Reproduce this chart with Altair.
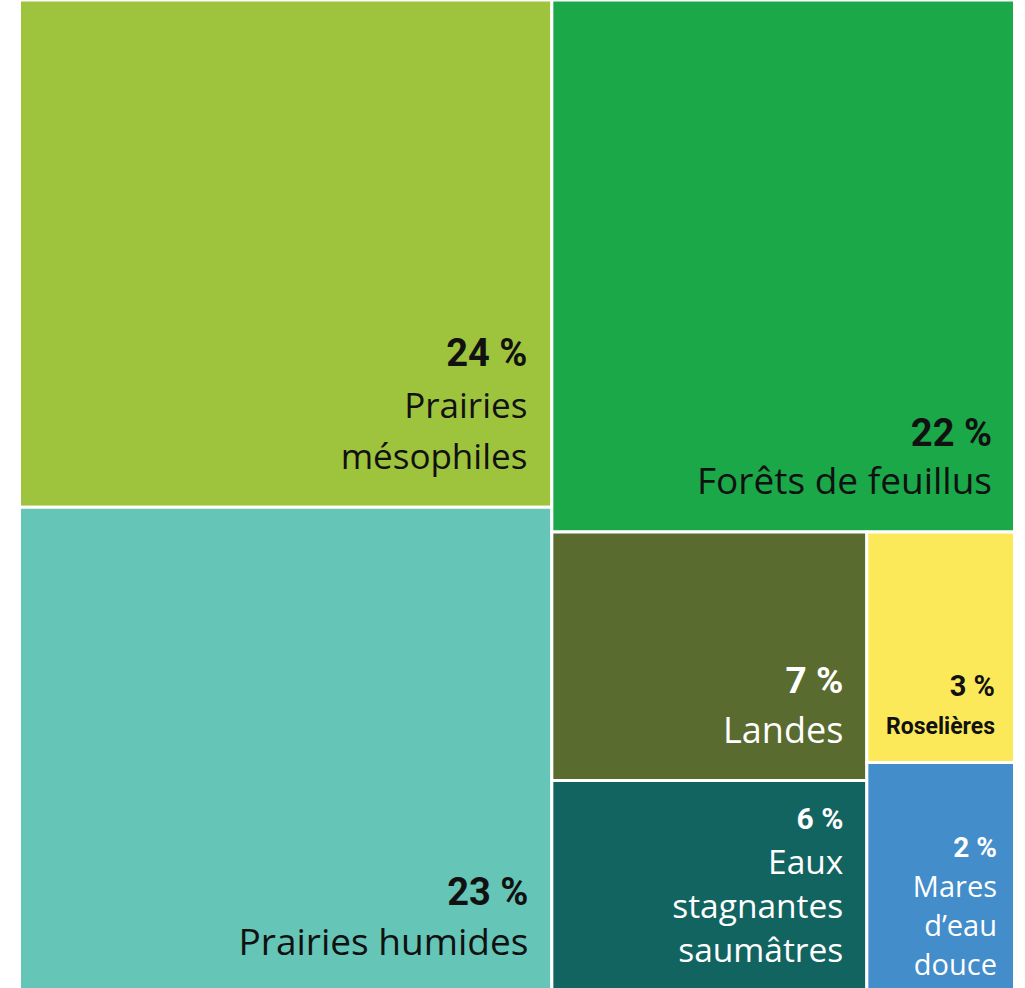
import altair as alt
import pandas as pd

# ---------------- data ----------------
categories = [
    "Prairies mésophiles",
    "Prairies humides",
    "Forêts de feuillus",
    "Landes",
    "Eaux stagnantes saumâtres",
    "Roselières",
    "Mares d’eau douce",
]
percent_labels = [24, 23, 22, 7, 6, 3, 2]
area_shares = [23.8, 22.8, 21.7, 6.9, 5.9, 3.0, 3.0]
label_lines = [
    ["Prairies", "mésophiles"],
    ["Prairies humides"],
    ["Forêts de feuillus"],
    ["Landes"],
    ["Eaux", "stagnantes", "saumâtres"],
    ["Roselières"],
    ["Mares", "d’eau", "douce"],
]
fill_colors = ["#9EC33D", "#65C5B6", "#1BA849", "#5A6B30", "#126461", "#FBE95A", "#438DCB"]

# ---------------- styles ----------------
DARK, LIGHT = "#111111", "#FFFFFF"
styles = {
    "Prairies mésophiles": dict(pct=38, lab=35, lh=51, gap=52, pr=23, pb=37, col=DARK, bold=False),
    "Prairies humides": dict(pct=38, lab=37, lh=51, gap=50, pr=22, pb=37, col=DARK, bold=False),
    "Forêts de feuillus": dict(pct=38, lab=37, lh=51, gap=48, pr=21, pb=37, col=DARK, bold=False),
    "Landes": dict(pct=37, lab=36, lh=50, gap=50, pr=22, pb=36, col=LIGHT, bold=False),
    "Eaux stagnantes saumâtres": dict(pct=30, lab=33.5, lh=44, gap=45, pr=22, pb=29.5, col=LIGHT, bold=False),
    "Roselières": dict(pct=29, lab=23, lh=30, gap=38, pr=18, pb=27, col=DARK, bold=True),
    "Mares d’eau douce": dict(pct=28, lab=29, lh=39, gap=40, pr=16, pb=16.5, col=LIGHT, bold=False),
}
GAP = 3
BOX = (19.5, 0.0, 995.0, 993.0)  # x, y, w, h of the treemap area
W_PX, H_PX = 1025, 988
PCT_FONT = "Roboto, 'Open Sans', sans-serif"
LAB_FONT = "'Open Sans', sans-serif"


# ---------------- squarified treemap layout ----------------
def worst(row, side):
    s = sum(row)
    return max(max(side * side * r / (s * s), s * s / (side * side * r)) for r in row)


def squarify(items, x, y, w, h):
    total = sum(v for _, v in items)
    k = w * h / total
    items = [(n, v * k) for n, v in items]
    out = {}
    while items:
        side = min(w, h)
        row = [items[0]]
        i = 1
        while i < len(items) and worst([a for _, a in row + [items[i]]], side) <= worst([a for _, a in row], side):
            row.append(items[i])
            i += 1
        items = items[i:]
        s = sum(a for _, a in row)
        if w >= h:
            cw = s / h
            cy = y
            for n, a in row:
                rh = a / cw
                out[n] = (x, cy, x + cw, cy + rh)
                cy += rh
            x += cw
            w -= cw
        else:
            rh = s / w
            cx = x
            for n, a in row:
                rw = a / rh
                out[n] = (cx, y, cx + rw, y + rh)
                cx += rw
            y += rh
            h -= rh
    return out


rects = squarify(list(zip(categories, area_shares)), *BOX)

rect_rows = []
txt_rows = []
for cat, pct, lines, colr in zip(categories, percent_labels, label_lines, fill_colors):
    x0, y0, x1, y1 = rects[cat]
    rect_rows.append(dict(cat=cat, x=x0, x2=x1, y=y0, y2=y1, fill=colr))
    st = styles[cat]
    xr = x1 - GAP / 2 - st["pr"]
    yb = y1 - GAP / 2 - st["pb"]
    n = len(lines)
    for i, t in enumerate(lines):
        txt_rows.append(dict(cat=cat, kind="labb" if st["bold"] else "lab", text=t, x=xr,
                             y=yb - (n - 1 - i) * st["lh"], size=st["lab"], col=st["col"]))
    first = yb - (n - 1) * st["lh"]
    txt_rows.append(dict(cat=cat, kind="pct", text=f"{pct} %", x=xr, y=first - st["gap"],
                         size=st["pct"], col=st["col"]))

rdf = pd.DataFrame(rect_rows)
tdf = pd.DataFrame(txt_rows)

xs = alt.Scale(domain=[0, W_PX], nice=False, zero=False)
ys = alt.Scale(domain=[0, H_PX], nice=False, zero=False, reverse=True)

rect_layer = alt.Chart(rdf).mark_rect(stroke="white", strokeWidth=GAP).encode(
    x=alt.X("x:Q", scale=xs, axis=None),
    x2="x2:Q",
    y=alt.Y("y:Q", scale=ys, axis=None),
    y2="y2:Q",
    color=alt.Color("fill:N", scale=None),
)


def text_layer(kind, font, weight):
    return alt.Chart(tdf).transform_filter(alt.datum.kind == kind).mark_text(
        align="right", baseline="alphabetic", font=font, fontWeight=weight
    ).encode(
        x=alt.X("x:Q", scale=xs, axis=None),
        y=alt.Y("y:Q", scale=ys, axis=None),
        text="text:N",
        size=alt.Size("size:Q", scale=None),
        color=alt.Color("col:N", scale=None),
    )


chart = alt.layer(
    rect_layer,
    text_layer("pct", PCT_FONT, "bold"),
    text_layer("lab", LAB_FONT, "normal"),
    text_layer("labb", PCT_FONT, "bold"),
).properties(
    width=W_PX, height=H_PX, padding=0, autosize="none", background="white"
).configure_view(stroke=None)

chart.save("out.html", embed_options={"renderer": "svg", "actions": False})
